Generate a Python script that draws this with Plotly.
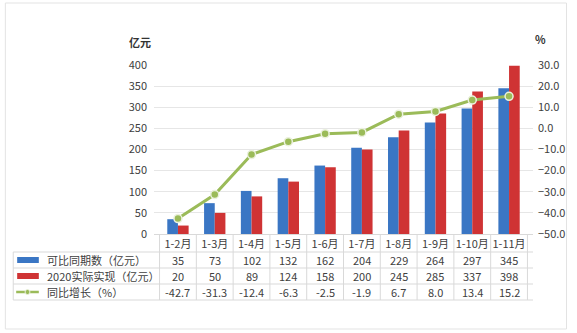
import plotly.graph_objects as go

categories = ["1-2月", "1-3月", "1-4月", "1-5月", "1-6月", "1-7月", "1-8月", "1-9月", "1-10月", "1-11月"]
comparable = [35, 73, 102, 132, 162, 204, 229, 264, 297, 345]
actual_2020 = [20, 50, 89, 124, 158, 200, 245, 285, 337, 398]
growth = [-42.7, -31.3, -12.4, -6.3, -2.5, -1.9, 6.7, 8.0, 13.4, 15.2]
growth_labels = ["-42.7", "-31.3", "-12.4", "-6.3", "-2.5", "-1.9", "6.7", "8.0", "13.4", "15.2"]
series_names = ["可比同期数（亿元）", "2020实际实现（亿元）", "同比增长（%）"]

W, H = 577, 333
L, R, T, B = 154, 539, 65, 234
FONT = "Noto Sans CJK SC"
TXT = "#404040"
GRID = "#d9d9d9"
BLUE = "#3a76c4"
RED = "#cf3334"
GREEN = "#9bbb59"

def px_x(px):
    return (px - L) / (R - L)

def px_y(py):
    return (B - py) / (B - T)

fig = go.Figure()
fig.add_trace(go.Bar(x=categories, y=comparable, name=series_names[0],
                     marker=dict(color=BLUE, line=dict(width=0))))
fig.add_trace(go.Bar(x=categories, y=actual_2020, name=series_names[1],
                     marker=dict(color=RED, line=dict(width=0))))
fig.add_trace(go.Scatter(x=categories, y=growth, name=series_names[2], yaxis="y2",
                         mode="lines+markers",
                         line=dict(color=GREEN, width=3),
                         marker=dict(size=8, color=GREEN, line=dict(color="#ebf1de", width=1.5))))

shapes = []
annotations = []

# outer border
shapes.append(dict(type="rect", xref="paper", yref="paper",
                   x0=px_x(3), x1=px_x(573), y0=px_y(3), y1=px_y(329),
                   line=dict(color="#e3e3e3", width=1), layer="below"))

# table lines
row_lines = [252, 268, 284, 300]
for py in row_lines:
    shapes.append(dict(type="line", xref="paper", yref="paper",
                       x0=px_x(11), x1=px_x(R), y0=px_y(py), y1=px_y(py),
                       line=dict(color=GRID, width=1)))
for i in range(len(categories) + 1):
    shapes.append(dict(type="line", xref="x", yref="paper",
                       x0=i - 0.5, x1=i - 0.5, y0=px_y(B), y1=px_y(300),
                       line=dict(color=GRID, width=1)))
shapes.append(dict(type="line", xref="paper", yref="paper",
                   x0=px_x(11), x1=px_x(11), y0=px_y(252), y1=px_y(300),
                   line=dict(color=GRID, width=1)))

# table values
rows = [(260, [str(v) for v in comparable]),
        (276, [str(v) for v in actual_2020]),
        (292, growth_labels)]
for py, vals in rows:
    for c, v in zip(categories, vals):
        annotations.append(dict(x=c, xref="x", y=px_y(py), yref="paper", text=v,
                                xanchor="center", yanchor="middle",
                                showarrow=False, font=dict(family=FONT, size=11, color=TXT)))

# legend keys in table
shapes.append(dict(type="rect", xref="paper", yref="paper",
                   x0=px_x(15), x1=px_x(37), y0=px_y(257), y1=px_y(263),
                   fillcolor=BLUE, line=dict(width=0)))
shapes.append(dict(type="rect", xref="paper", yref="paper",
                   x0=px_x(15), x1=px_x(37), y0=px_y(273), y1=px_y(279),
                   fillcolor=RED, line=dict(width=0)))
shapes.append(dict(type="line", xref="paper", yref="paper",
                   x0=px_x(14), x1=px_x(37), y0=px_y(292), y1=px_y(292),
                   line=dict(color=GREEN, width=2.5)))
shapes.append(dict(type="circle", xref="paper", yref="paper",
                   x0=px_x(23), x1=px_x(28), y0=px_y(289.5), y1=px_y(294.5),
                   fillcolor=GREEN, line=dict(color="#ebf1de", width=1)))
for py, name in zip([260, 276, 292], series_names):
    annotations.append(dict(x=px_x(43), xref="paper", y=px_y(py), yref="paper", text=name,
                            xanchor="left", yanchor="middle", showarrow=False,
                            font=dict(family=FONT, size=11, color=TXT)))

# axis titles
annotations.append(dict(x=px_x(140), xref="paper", y=px_y(42), yref="paper", text="<b>亿元</b>",
                        xanchor="center", yanchor="middle",
                        showarrow=False, font=dict(family=FONT, size=11, color="#333333")))
annotations.append(dict(x=px_x(547), xref="paper", y=px_y(39), yref="paper", text="<b>%</b>",
                        xanchor="center", yanchor="middle",
                        showarrow=False, font=dict(family=FONT, size=11, color="#333333")))

fig.update_layout(
    width=W, height=H,
    margin=dict(l=L, r=W - R, t=T, b=H - B),
    paper_bgcolor="white", plot_bgcolor="white",
    barmode="group", bargap=0.42, bargroupgap=0,
    showlegend=False,
    font=dict(family=FONT, size=11, color=TXT),
    xaxis=dict(type="category", showgrid=False, showline=True, linecolor=GRID,
               ticks="", tickfont=dict(family=FONT, size=11, color=TXT),
               fixedrange=True),
    yaxis=dict(range=[0, 400], dtick=50, showgrid=True, gridcolor="#e6e6e6",
               zeroline=False, showline=False, ticks="",
               tickfont=dict(family=FONT, size=11, color=TXT), ticklabelstandoff=6),
    yaxis2=dict(range=[-50, 30], dtick=10, overlaying="y", side="right",
                showgrid=False, zeroline=False, tickformat=".1f", ticks="",
                tickfont=dict(family=FONT, size=11, color=TXT), ticklabelstandoff=4),
    shapes=shapes,
    annotations=annotations,
)

fig.write_html("out.html")
